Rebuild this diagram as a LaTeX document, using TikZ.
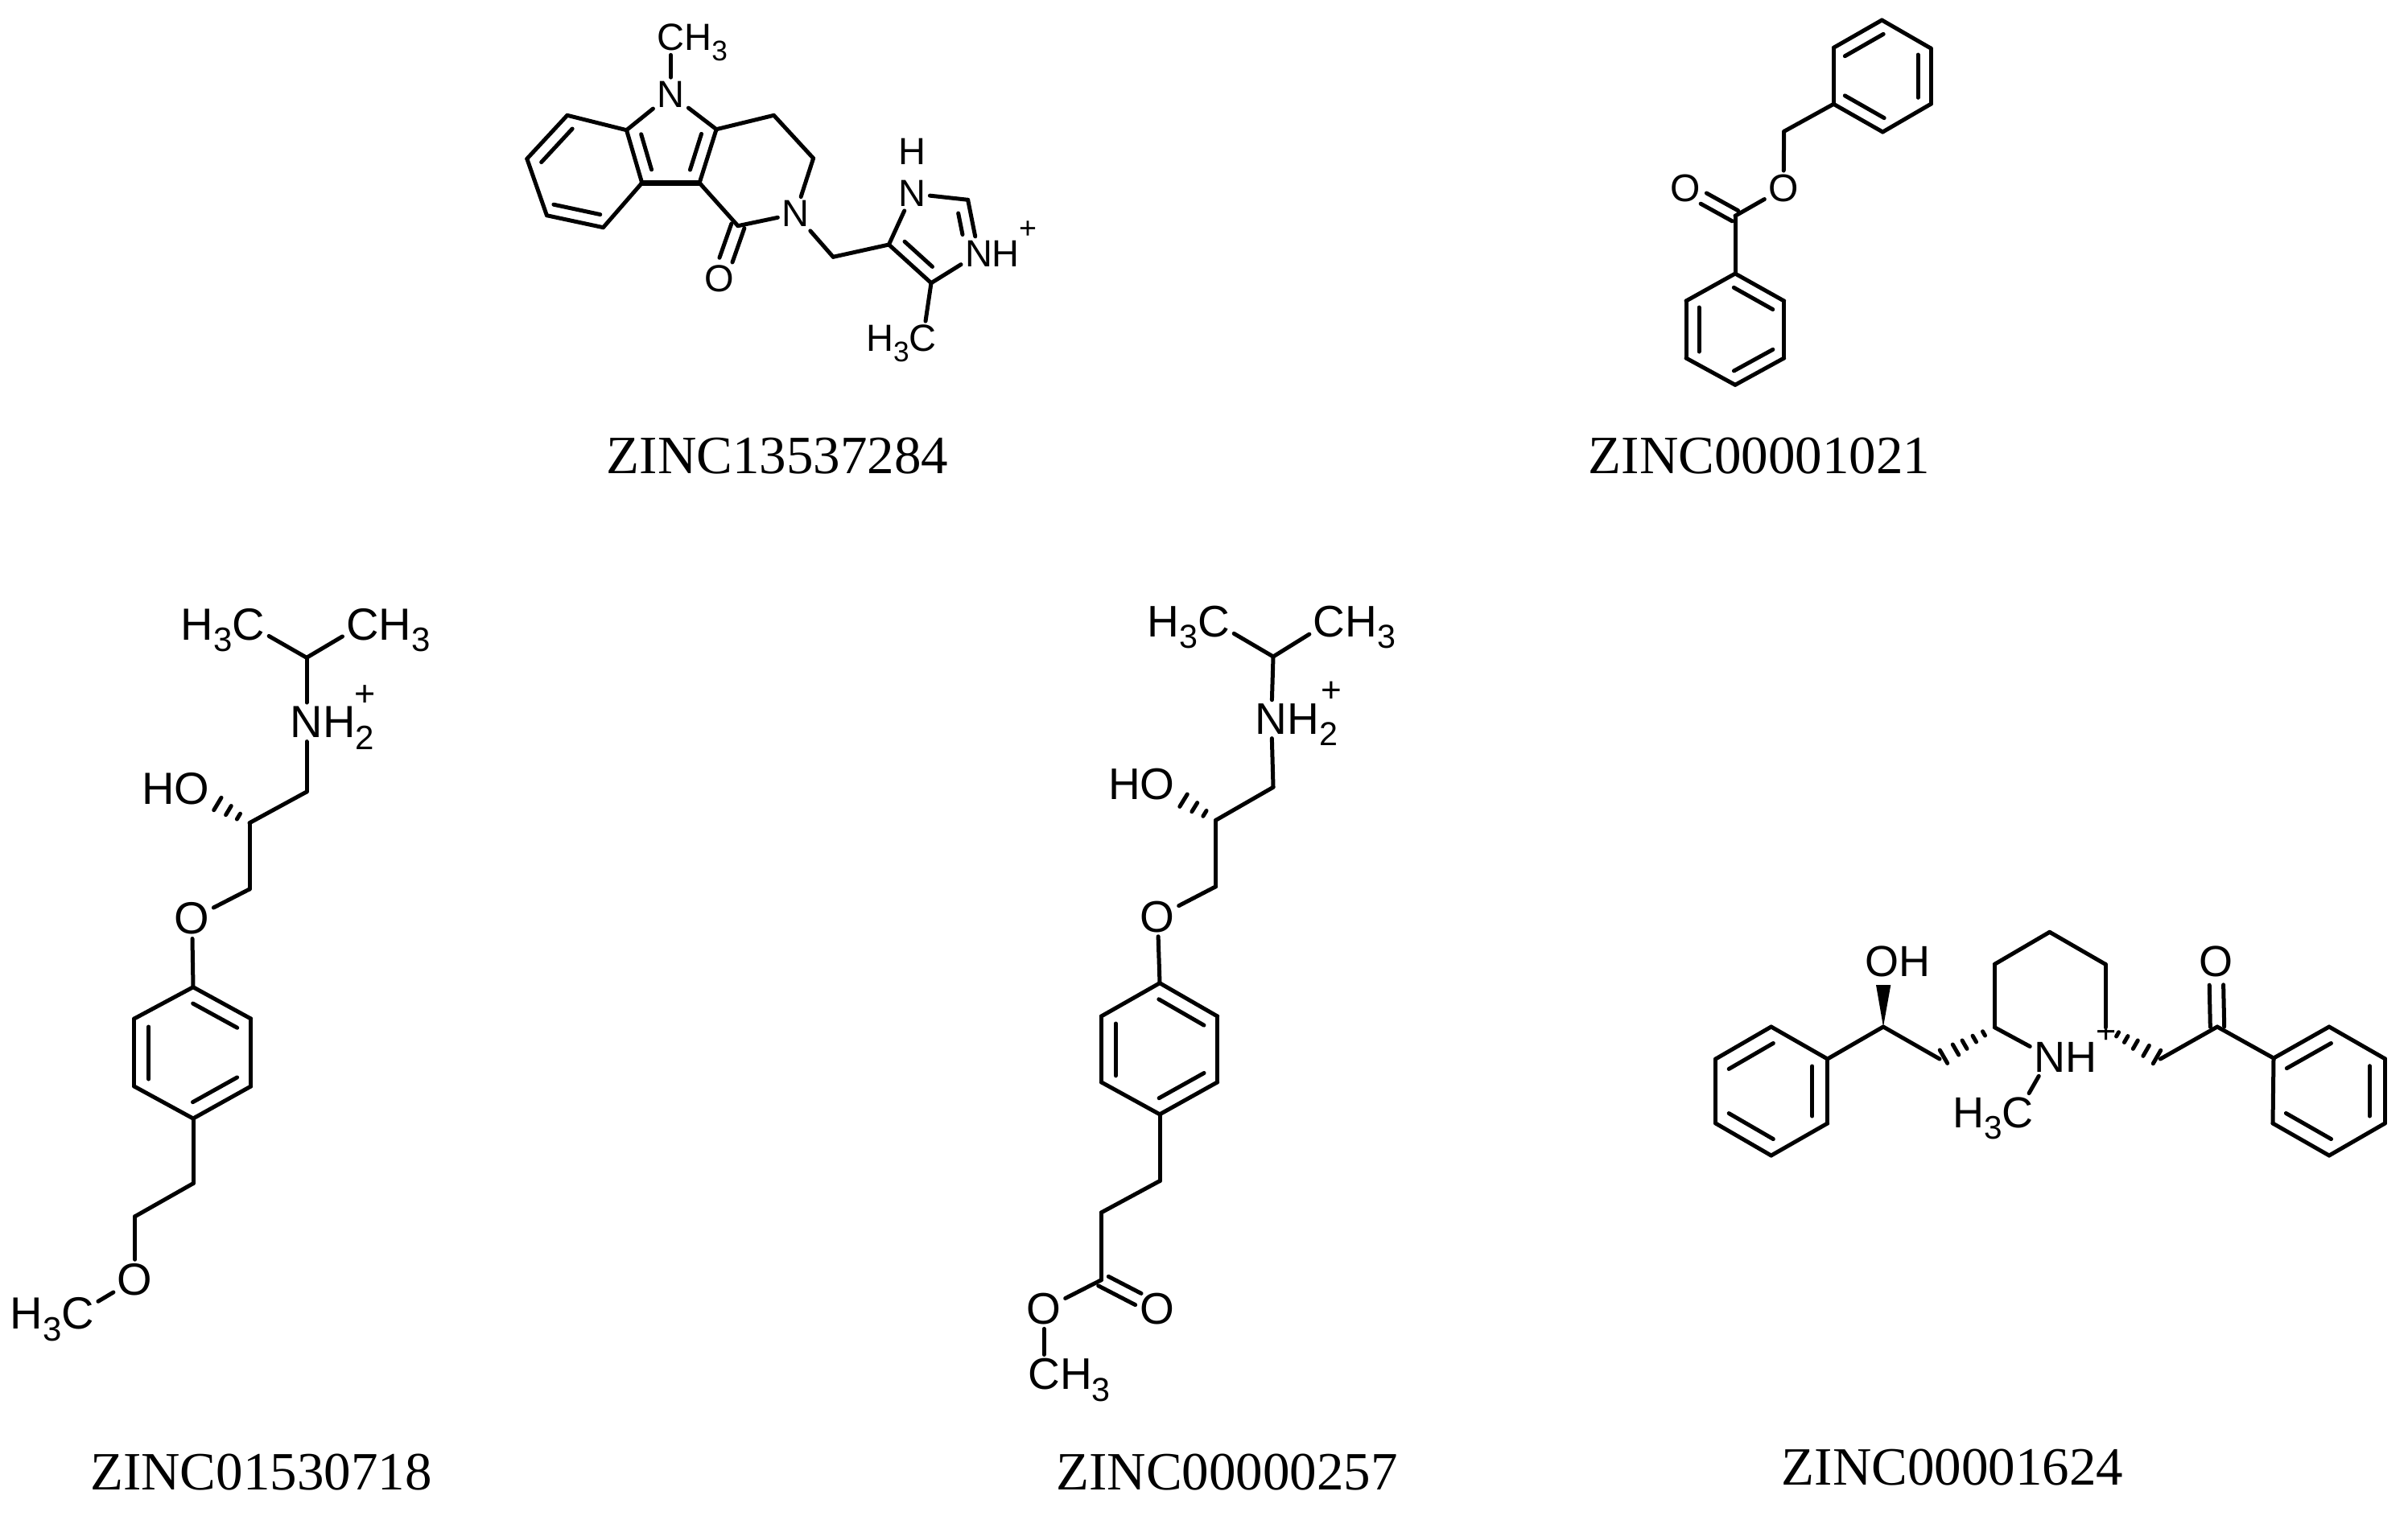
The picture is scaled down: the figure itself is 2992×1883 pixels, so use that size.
\documentclass[tikz,border=0pt]{standalone}
\usepackage{fontspec}
\usepackage{graphicx}
\setmainfont{Liberation Sans}
\newfontfamily\capfont{Liberation Serif}
\usetikzlibrary{calc}
\newcommand{\sbs}[1]{\raisebox{-.26em}{\scalebox{.75}{#1}}}
\newcommand{\rgt}[1]{\smash{\rlap{#1}}}
\newcommand{\lft}[1]{\smash{\llap{#1}}}
\newcommand{\chg}{\scalebox{.8}{+}}
\newcommand{\dbl}[5]{\draw[bond,shorten <=#4pt,shorten >=#5pt] ($(#1)!#3pt!90:(#2)$) -- ($(#2)!#3pt!-90:(#1)$);}
\newcommand{\hsh}[3]{\foreach \f/\w in {#3} \draw[bond] ($(#1)!\f!(#2)!\w pt!90:(#2)$) -- ($(#1)!\f!(#2)!\w pt!-90:(#2)$);}

\begin{document}
\begin{tikzpicture}[x=1pt,y=-1pt,
  bond/.style={line width=5pt,line cap=round,line join=round},
  mol/.style={every node/.style={inner sep=5pt,outer sep=0pt,font=\fontsize{#1}{#1}\selectfont}},
  zinc/.style={inner sep=0pt,font=\capfont\fontsize{67}{67}\selectfont}]
  \useasboundingbox (0,0) rectangle (2992,1883);

  \begin{scope}[mol=47]
    \coordinate (a1) at (704.8,143.3); \coordinate (a2) at (654.8,197.3); \coordinate (a3) at (679.4,267.7);
    \coordinate (a4) at (749.5,282.7); \coordinate (a5) at (797.7,227.3); \coordinate (a6) at (778.5,161.7);
    \coordinate (a7) at (890.1,160.7); \coordinate (a8) at (869.1,227.3); \coordinate (a9) at (961.5,143.3);
    \coordinate (a10) at (1010.6,196.7); \coordinate (a11) at (916.9,280.7); \coordinate (a12) at (1035.2,319.3);
    \coordinate (a13) at (1104.4,304); \coordinate (a14) at (1202.6,248.3); \coordinate (a15) at (1157,351.7);
    \node (na) at (833.4,117.3) {N};
    \node (ca) at (833.4,46.7) {C\rgt{H\sbs{3}}};
    \node (nb) at (988.3,265.7) {N};
    \node (oa) at (893.7,346.7) {O};
    \node (nc) at (1133.4,240.7) {N};
    \node (ha) at (1133.4,188.3) {H};
    \node (nd) at (1216,315) {N\rgt{H}};
    \node (pa) at (1277,286) {\chg};
    \node (ce) at (1146.8,420.7) {\lft{H\sbs{3}}C};
    \foreach \p/\q in {a1/a2,a2/a3,a3/a4,a4/a5,a5/a6,a6/a1,a6/na,na/a7,a7/a8,na/ca,a7/a9,a9/a10,a10/nb,nb/a11,a11/a8,
      nb/a12,a12/a13,a13/nc,nc/a14,a14/nd,nd/a15,a15/a13,a15/ce}
      \draw[bond] (\p) -- (\q);
    \draw[bond,line width=6.5pt] (a5) -- (a8);
    \dbl{a1}{a2}{16}{8}{9}
    \dbl{a3}{a4}{15}{5.5}{7}
    \dbl{a6}{a5}{16}{10}{12.5}
    \dbl{a8}{a7}{16}{12}{11}
    \dbl{a13}{a15}{16}{12}{12.5}
    \dbl{nd}{a14}{15}{27}{14}
    \dbl{a11}{oa}{8.5}{0}{25}
    \dbl{a11}{oa}{-8.5}{0}{25}
  \end{scope}

  \begin{scope}[mol=48]
    \coordinate (b1) at (2338.3,25); \coordinate (b2) at (2399,60); \coordinate (b3) at (2399,129.3);
    \coordinate (b4) at (2339.3,164); \coordinate (b5) at (2278.3,129.3); \coordinate (b6) at (2278.3,59.3);
    \coordinate (b7) at (2216.7,163.3); \coordinate (b8) at (2156,268.3); \coordinate (b9) at (2156,340);
    \coordinate (b10) at (2216.7,374); \coordinate (b11) at (2216.7,445); \coordinate (b12) at (2156,478.3);
    \coordinate (b13) at (2095,445); \coordinate (b14) at (2095,374);
    \node (ob) at (2216,234) {O};
    \node (oc) at (2094,234) {O};
    \foreach \p/\q in {b1/b2,b2/b3,b3/b4,b4/b5,b5/b6,b6/b1,b5/b7,b7/ob,ob/b8,b8/b9,b9/b10,b10/b11,b11/b12,b12/b13,b13/b14,b14/b9}
      \draw[bond] (\p) -- (\q);
    \dbl{b1}{b6}{16}{7}{7}
    \dbl{b5}{b4}{16}{7}{7}
    \dbl{b3}{b2}{16}{8}{8}
    \dbl{b14}{b13}{16}{8}{8}
    \dbl{b12}{b11}{16}{7}{7}
    \dbl{b10}{b9}{16}{7}{7}
    \dbl{b8}{oc}{7.5}{0}{26}
    \dbl{b8}{oc}{-7.5}{0}{26}
  \end{scope}

  \begin{scope}[mol=56]
    \coordinate (c1) at (381,817.3); \coordinate (c2) at (381,984); \coordinate (c3) at (310,1022.7);
    \coordinate (c4) at (310,1105); \coordinate (c5) at (240,1226.7); \coordinate (c6) at (311.7,1266);
    \coordinate (c7) at (311.7,1350); \coordinate (c8) at (240,1390); \coordinate (c9) at (166.7,1350);
    \coordinate (c10) at (166.7,1266); \coordinate (c11) at (240,1470.7); \coordinate (c12) at (167.7,1511.7);
    \node (cb) at (308.9,776) {\lft{H\sbs{3}}C};
    \node (cc) at (450.7,776) {C\rgt{H\sbs{3}}};
    \node (nh) at (381,897.3) {N\rgt{H\sbs{2}}};
    \node (pc) at (453.6,865) {\chg};
    \node (oh) at (238.6,980) {\lft{H}O};
    \node (oe) at (238.6,1141.7) {O};
    \node (of) at (167.7,1590) {O};
    \node (cg) at (96.7,1632.3) {\lft{H\sbs{3}}C};
    \foreach \p/\q in {cb/c1,c1/cc,c1/nh,nh/c2,c2/c3,c3/c4,c4/oe,oe/c5,c5/c6,c6/c7,c7/c8,c8/c9,c9/c10,c10/c5,c8/c11,c11/c12,c12/of,of/cg}
      \draw[bond] (\p) -- (\q);
    \hsh{c3}{oh}{.19/4,.365/6.5,.555/9}
    \dbl{c10}{c9}{18}{10}{9}
    \dbl{c8}{c7}{18}{9.5}{9.5}
    \dbl{c6}{c5}{18}{9.5}{9.5}
  \end{scope}

  \begin{scope}[mol=55]
    \coordinate (d1) at (1582,816); \coordinate (d2) at (1582,978.3); \coordinate (d3) at (1510.7,1019.3);
    \coordinate (d4) at (1510.7,1101.7); \coordinate (d5) at (1441,1221.7); \coordinate (d6) at (1512.7,1263);
    \coordinate (d7) at (1512.7,1344.8); \coordinate (d8) at (1441,1384.8); \coordinate (d9) at (1368.3,1344.8);
    \coordinate (d10) at (1368.3,1263); \coordinate (d11) at (1441,1467.6); \coordinate (d12) at (1368.3,1506.9);
    \coordinate (d13) at (1368.3,1590.7);
    \node (db) at (1508.3,772.7) {\lft{H\sbs{3}}C};
    \node (dc) at (1651.7,772.7) {C\rgt{H\sbs{3}}};
    \node (nj) at (1579.7,893.7) {N\rgt{H\sbs{2}}};
    \node (pd) at (1654,860) {\chg};
    \node (od) at (1438.3,975) {\lft{H}O};
    \node (oj) at (1438.3,1139.3) {O};
    \node (og) at (1438.3,1626.9) {O};
    \node (ok) at (1297.3,1626.9) {O};
    \node (ch) at (1297.3,1707.9) {C\rgt{H\sbs{3}}};
    \foreach \p/\q in {db/d1,d1/dc,d1/nj,nj/d2,d2/d3,d3/d4,d4/oj,oj/d5,d5/d6,d6/d7,d7/d8,d8/d9,d9/d10,d10/d5,d8/d11,d11/d12,d12/d13,d13/ok,ok/ch}
      \draw[bond] (\p) -- (\q);
    \hsh{d3}{od}{.19/4,.365/6.5,.555/9}
    \dbl{d10}{d9}{18}{9}{8}
    \dbl{d8}{d7}{18}{9}{9}
    \dbl{d6}{d5}{18}{9}{9}
    \dbl{d13}{og}{8}{6}{27}
    \dbl{d13}{og}{-8}{0}{27}
  \end{scope}

  \begin{scope}[mol=54]
    \coordinate (e1) at (2200.7,1276); \coordinate (e2) at (2270.7,1316); \coordinate (e3) at (2270.7,1396);
    \coordinate (e4) at (2200.7,1436); \coordinate (e5) at (2131.7,1396); \coordinate (e6) at (2131.7,1316);
    \coordinate (e7) at (2340,1276); \coordinate (e8) at (2410,1316); \coordinate (e9) at (2478.3,1276.7);
    \coordinate (e10) at (2478.3,1198.3); \coordinate (e11) at (2546.7,1158.3); \coordinate (e12) at (2616,1198.3);
    \coordinate (e13) at (2616,1276.7); \coordinate (e14) at (2684.3,1316); \coordinate (e15) at (2755,1276);
    \coordinate (e16) at (2825,1315); \coordinate (e17) at (2894,1276); \coordinate (e18) at (2963.3,1315.7);
    \coordinate (e19) at (2963.3,1396); \coordinate (e20) at (2894,1436); \coordinate (e21) at (2824,1396);
    \coordinate (wl) at (2331,1224); \coordinate (wr) at (2349.3,1224);
    \node (oi) at (2338.3,1195) {O\rgt{H}};
    \node (ni) at (2546.7,1313.7) {N\rgt{H}};
    \node (pe) at (2617.3,1284.3) {\chg};
    \node (cm) at (2507.3,1382.7) {\lft{H\sbs{3}}C};
    \node (ok2) at (2753.3,1195) {O};
    \foreach \p/\q in {e1/e2,e2/e3,e3/e4,e4/e5,e5/e6,e6/e1,e2/e7,e7/e8,e9/e10,e10/e11,e11/e12,e12/e13,e9/ni,ni/cm,e14/e15,e15/e16,e16/e17,e17/e18,e18/e19,e19/e20,e20/e21,e21/e16}
      \draw[bond] (\p) -- (\q);
    \fill (e7) -- (wl) -- (wr) -- cycle;
    \hsh{e9}{e8}{.195/3,.366/4.5,.546/6,.707/7.5,.927/9.5}
    \hsh{e13}{e14}{.22/3,.376/4.5,.546/6,.741/7.5,.937/9.5}
    \dbl{e1}{e6}{19}{8}{8}
    \dbl{e5}{e4}{19}{8}{8}
    \dbl{e3}{e2}{19}{9}{9}
    \dbl{e17}{e16}{19}{8}{8}
    \dbl{e21}{e20}{19}{8}{8}
    \dbl{e19}{e18}{19}{9}{9}
    \dbl{e15}{ok2}{8.7}{0}{29}
    \dbl{e15}{ok2}{-8.7}{0}{29}
  \end{scope}

  \node[zinc] (za) at (966,567) {ZINC13537284};
  \node[zinc] (zb) at (2186,567) {ZINC00001021};
  \node[zinc] (zc) at (324.4,1830) {ZINC01530718};
  \node[zinc] (zd) at (1524.6,1830) {ZINC00000257};
  \node[zinc] (ze) at (2426,1824) {ZINC00001624};
\end{tikzpicture}
\end{document}
